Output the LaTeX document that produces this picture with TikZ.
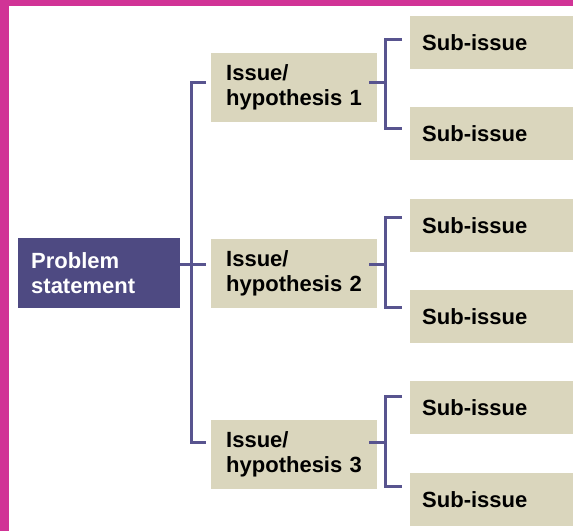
\documentclass[tikz,border=0pt]{standalone}
\usepackage{fontspec}
\setmainfont{Liberation Sans}
\definecolor{frame}{HTML}{D13396}
\definecolor{navy}{HTML}{4E4A82}
\definecolor{rule}{HTML}{58548F}
\definecolor{sand}{HTML}{DAD6BD}
\begin{document}
\begin{tikzpicture}[x=1pt,y=-1pt,
  label font/.style={font=\fontsize{22}{25}\selectfont\bfseries},
  probbox/.style={label font, fill=navy, text=white, anchor=north west,
    minimum width=162pt, minimum height=70pt, text width=136pt,
    inner xsep=13pt, inner ysep=0pt, align=left},
  issuebox/.style={label font, fill=sand, text=black, anchor=north west,
    minimum width=166pt, minimum height=69pt, text width=136pt,
    inner xsep=15pt, inner ysep=0pt, align=left},
  subbox/.style={label font, fill=sand, text=black, anchor=north west,
    minimum width=163pt, minimum height=53pt, text width=139pt,
    inner xsep=12pt, inner ysep=0pt, align=left},
  link/.style={draw=rule, line width=3pt, line join=miter, line cap=butt}]

\useasboundingbox (0,0) rectangle (573,531);
\fill[white] (0,0) rectangle (573,531);

% magenta frame on the left and top edges
\fill[frame] (0,0) rectangle (8.5,531);
\fill[frame] (0,0) rectangle (573,6);

% boxes
\node[probbox]  (prob) at (18,238)  {Problem\\statement};
\node[issuebox] (iss1) at (211,53)  {Issue/\\hypothesis 1};
\node[issuebox] (iss2) at (211,239) {Issue/\\hypothesis 2};
\node[issuebox] (iss3) at (211,420) {Issue/\\hypothesis 3};

\node[subbox] (s11) at (410,16)  {Sub-issue};
\node[subbox] (s12) at (410,107) {Sub-issue};
\node[subbox] (s21) at (410,199) {Sub-issue};
\node[subbox] (s22) at (410,290) {Sub-issue};
\node[subbox] (s31) at (410,381) {Sub-issue};
\node[subbox] (s32) at (410,473) {Sub-issue};

% trunk joining the problem statement to the issues
\coordinate (t1) at (191,82);
\coordinate (t2) at (191,264);
\coordinate (t3) at (191,442);
\coordinate (e1) at (206,82);
\coordinate (e2) at (206,264);
\coordinate (e3) at (206,442);
\draw[link] (e1) -- (t1) -- (t3) -- (e3);
\draw[link] (prob.east |- t2) -- (e2);

% brackets joining each issue to its sub-issues
\foreach \i/\ys/\ya/\yb in {1/82/39/128, 2/264/217/307, 3/442/396/486}{
  \coordinate (r\i) at (369,\ys);
  \coordinate (b\i) at (385,\ys);
  \coordinate (u\i) at (385,\ya);
  \coordinate (l\i) at (385,\yb);
  \coordinate (ua\i) at (402,\ya);
  \coordinate (la\i) at (402,\yb);
  \draw[link] (r\i) -- (b\i);
  \draw[link] (ua\i) -- (u\i) -- (l\i) -- (la\i);
}
\end{tikzpicture}
\end{document}
